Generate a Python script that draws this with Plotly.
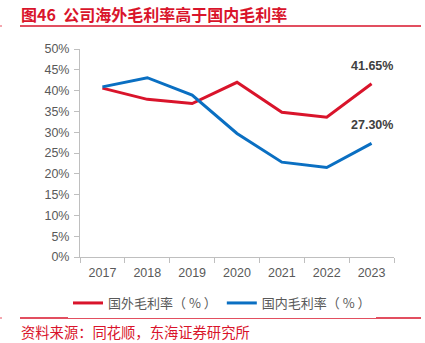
import plotly.graph_objects as go

years = ["2017", "2018", "2019", "2020", "2021", "2022", "2023"]
foreign = [40.6, 37.9, 36.9, 42.0, 34.8, 33.6, 41.65]
domestic = [40.9, 43.1, 38.9, 29.7, 22.8, 21.5, 27.30]
yticks = [0, 5, 10, 15, 20, 25, 30, 35, 40, 45, 50]
ytick_labels = [f"{v}%" for v in yticks]

RED = "#D9142B"
BLUE = "#0A6FC2"
CJK = "Noto Sans CJK SC"
LAT = "Liberation Sans, Arial"

W, H = 425, 343
ML, MR, MT, MB = 80, 31, 49, 86
plot_w = W - ML - MR
plot_h = H - MT - MB
def px(x):
    return (x - ML) / plot_w
def py(y):
    return (H - MB - y) / plot_h

fig = go.Figure()
fig.add_trace(go.Scatter(x=years, y=foreign, mode="lines", name="国外毛利率（ % ）",
                         line=dict(color=RED, width=3)))
fig.add_trace(go.Scatter(x=years, y=domestic, mode="lines", name="国内毛利率（ % ）",
                         line=dict(color=BLUE, width=3)))

for series in (foreign, domestic):
    fig.add_annotation(x=len(years) - 1, y=series[-1], text=f"<b>{series[-1]:.2f}%</b>",
                       showarrow=False, yshift=18,
                       font=dict(family=LAT, size=12.5, color="#404040"))

fig.add_annotation(xref="paper", yref="paper", x=px(19), y=py(13.5), xanchor="left", yanchor="middle",
                   text="<b>图46&nbsp;&nbsp;公司海外毛利率高于国内毛利率</b>", showarrow=False,
                   font=dict(family=CJK, size=16, color=RED))
fig.add_annotation(xref="paper", yref="paper", x=px(19), y=py(331), xanchor="left", yanchor="middle",
                   text="资料来源：同花顺，东海证券研究所", showarrow=False,
                   font=dict(family=CJK, size=14.3, color=RED))
for yy in (26, 318):
    fig.add_shape(type="line", xref="paper", yref="paper", x0=px(20), x1=px(421), y0=py(yy), y1=py(yy),
                  line=dict(color=RED, width=1.5))
    fig.add_shape(type="line", xref="paper", yref="paper", x0=px(0), x1=px(2), y0=py(yy), y1=py(yy),
                  line=dict(color="#F08A95", width=1.5))

fig.update_layout(
    width=W, height=H,
    margin=dict(l=ML, r=MR, t=MT, b=MB),
    paper_bgcolor="white", plot_bgcolor="white",
    showlegend=True,
    legend=dict(orientation="h", x=px(222), xanchor="center", y=py(303), yanchor="middle",
                font=dict(family=CJK, size=13, color="#595959"),
                itemwidth=30, tracegroupgap=0),
    xaxis=dict(type="category", showline=True, linecolor="#BFBFBF", linewidth=1, ticks="outside",
               tickson="boundaries", ticklen=5, tickcolor="#BFBFBF", showgrid=False,
               ticklabelstandoff=4,
               tickfont=dict(family=LAT, size=12.5, color="#595959"),
               range=[-0.5, 6.5]),
    yaxis=dict(range=[0, 50], tickvals=yticks, ticktext=ytick_labels, showline=True,
               linecolor="#BFBFBF", linewidth=1, ticks="outside", ticklen=5, tickcolor="#BFBFBF",
               showgrid=False, zeroline=False, ticklabelstandoff=2,
               tickfont=dict(family=LAT, size=12.5, color="#595959")),
)

fig.write_html("out.html")
